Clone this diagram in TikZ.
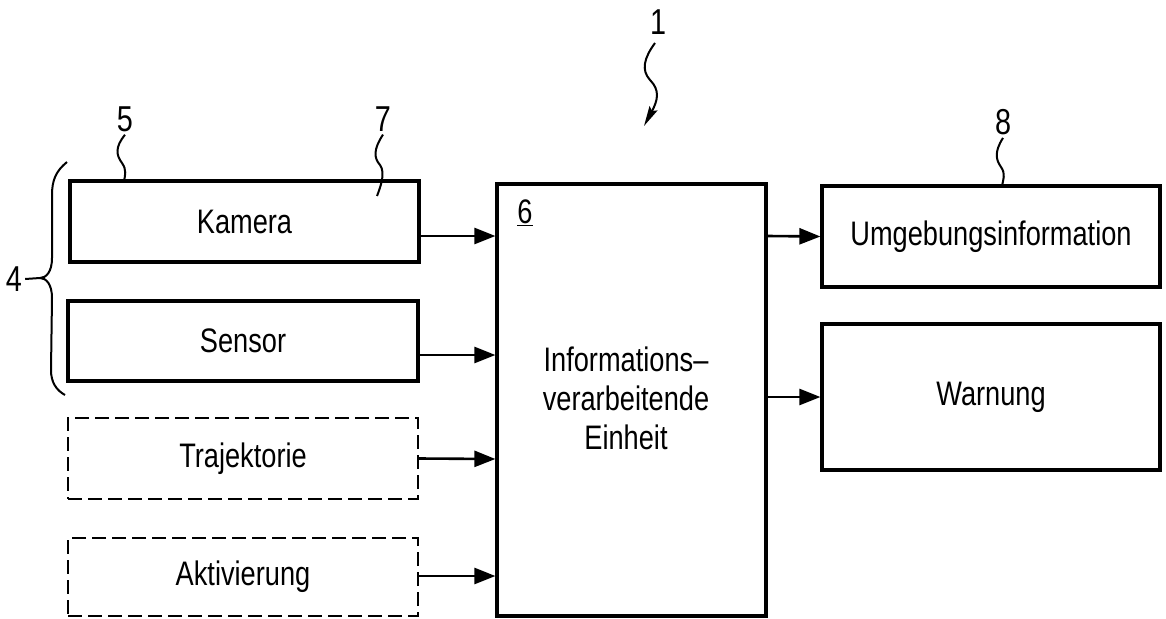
\documentclass[tikz,border=0pt]{standalone}
\usepackage{fontspec}
\setmainfont{Liberation Sans}[FakeStretch=0.8]
\usetikzlibrary{arrows.meta,calc}
\begin{document}
\begin{tikzpicture}[x=1pt,y=-1pt,
  every node/.style={font=\fontsize{34}{40}\selectfont},
  solidbox/.style={draw,line width=3.2pt,rectangle,inner sep=0pt},
  dashbox/.style={draw,line width=2.4pt,dash pattern=on 14pt off 6pt,rectangle,inner sep=0pt},
  arr/.style={line width=2.6pt,-{Triangle[length=21pt,width=16pt]}},
  leader/.style={line width=2pt},
  refnum/.style={font=\fontsize{36}{40}\selectfont,inner sep=3pt}]
\useasboundingbox (0,0) rectangle (1166,618);

% left boxes
\node[solidbox,minimum width=349pt,minimum height=81pt] (kam) at (244.5,221.5) {Kamera};
\node[solidbox,minimum width=350pt,minimum height=80pt] (sen) at (243,341) {Sensor};
\node[dashbox,minimum width=350pt,minimum height=81pt] (tra) at (243,458.5) {Trajektorie};
\node[dashbox,minimum width=350pt,minimum height=78pt] (akt) at (243,577) {Aktivierung};

% central box
\node[solidbox,minimum width=269pt,minimum height=432pt] (cen) at (631.5,400) {};
\node[align=center,font=\fontsize{34}{39}\selectfont] (centxt) at (626,398) {Informations--\\verarbeitende\\Einheit};
\node[inner sep=0pt] (six) at (525,213) {\underline{6}};

% right boxes
\node[solidbox,minimum width=338pt,minimum height=101pt] (umg) at (991,236.5) {Umgebungsinformation};
\node[solidbox,minimum width=338pt,minimum height=146pt] (war) at (991,397) {Warnung};

% arrows in
\draw[arr] ([yshift=-14.5pt]kam.east) -- (cen.west |- {0,236});
\draw[arr] ([yshift=-14pt]sen.east) -- (cen.west |- {0,355});
\draw[arr] (tra.east) -- (cen.west |- {0,459});
\draw[arr] ([yshift=1pt]akt.east) -- (cen.west |- {0,576});
% arrows out
\draw[arr] (cen.east |- {0,236}) -- (umg.west);
\draw[arr] (cen.east |- {0,397}) -- (war.west);

% reference numerals
\node[refnum] (n1) at (658,22) {1};
\node[refnum] (n5) at (125,119) {5};
\node[refnum] (n7) at (383,119) {7};
\node[refnum] (n8) at (1003,122) {8};
\node[refnum] (n4) at (14,279) {4};

\coordinate (c5) at (124,181);
\coordinate (c7) at (377,196);
\coordinate (c8) at (1002,186);
\coordinate (c1) at (644,126);
\coordinate (btip) at (40,278);

\draw[leader] (n5.south) .. controls (115,147) and (116,155) .. (122,163) .. controls (127,170) and (125,176) .. (c5);
\draw[leader] (n7.south) .. controls (373,150) and (374,158) .. (380,165) .. controls (386,173) and (380,188) .. (c7);
\draw[leader] (n8.south) .. controls (994,152) and (996,160) .. (1001,167) .. controls (1006,174) and (1003,180) .. (c8);
\draw[leader,-{Stealth[length=20pt,width=9pt,inset=3pt]}] (655,43) .. controls (644,58) and (641,70) .. (650,80) .. controls (660,90) and (658,100) .. (c1);

% brace
\draw[leader] (67,162) .. controls (56,171) and (52,180) .. (52,195) -- (52,258)
  .. controls (52,272) and (46,278) .. (btip)
  .. controls (46,278) and (52,284) .. (52,298) -- (51,370)
  .. controls (51,382) and (56,390) .. (65,395);
\draw[leader] (n4.east) -- (btip);
\end{tikzpicture}
\end{document}
